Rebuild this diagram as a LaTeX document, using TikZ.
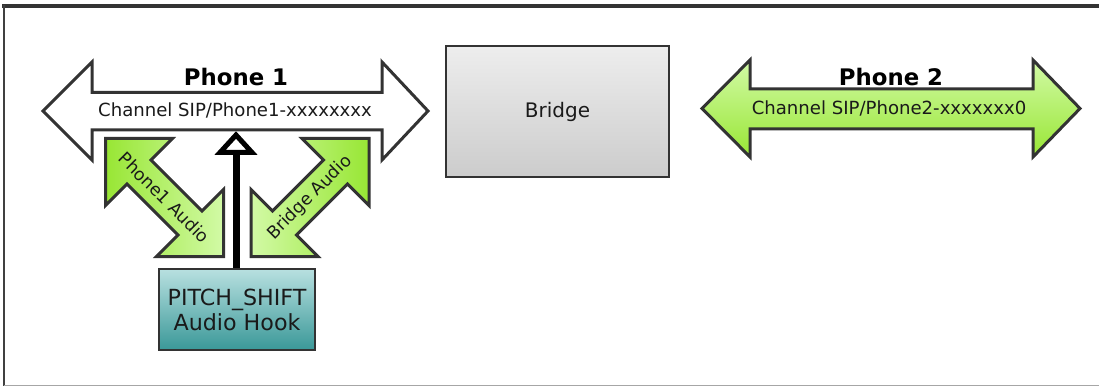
\documentclass[tikz,border=0pt]{standalone}
\usepackage{fontspec}
\setmainfont{DejaVu Sans}
\usetikzlibrary{arrows.meta,calc}
\definecolor{edge}{HTML}{333333}
\definecolor{gpale}{HTML}{D2FAA6}
\definecolor{gstrong}{HTML}{98E634}
\definecolor{tealtop}{HTML}{B8E0E0}
\definecolor{tealbot}{HTML}{3A9898}
\definecolor{txt}{HTML}{1A1A1A}
\tikzset{
  outline/.style={draw=edge, line width=3pt, line join=miter},
  phonelabel/.style={anchor=base, font=\bfseries\fontsize{22.8}{26}\selectfont, text=black, inner sep=0pt},
  chanlabel/.style={anchor=base, font=\fontsize{18.1}{21}\selectfont, text=txt, inner sep=0pt},
  difflabel/.style={font=\fontsize{17.3}{20}\selectfont, text=txt, inner sep=0pt},
  bridgebox/.style={draw=edge, line width=2pt, top color=black!7, bottom color=black!20,
    minimum width=223pt, minimum height=131pt, inner sep=0pt, font=\fontsize{20}{24}\selectfont, text=txt},
  hookbox/.style={draw=edge, line width=2.5pt, top color=tealtop, bottom color=tealbot,
    minimum width=156pt, minimum height=81pt, inner sep=0pt, align=center,
    font=\fontsize{22.2}{25}\selectfont, text=txt},
  hookline/.style={line width=7pt, draw=black},
  hooktip/.style={line width=5pt, draw=black, fill=white, line join=miter},
}
\begin{document}
\begin{tikzpicture}[x=1pt,y=-1pt]
\useasboundingbox (0,0) rectangle (1099,387);
% frame
\draw[line width=4pt, draw=black!80] (2,6) -- (1099,6);
\draw[line width=2.5pt, draw=black!75] (4,5) -- (4,386);
\draw[line width=1.5pt, draw=black!35] (4,385.5) -- (1099,385.5);

% Phone 1 channel arrow
\draw[outline, fill=white] (43,111) -- (92,62) -- (92,92.5) -- (382,92.5) -- (382,62)
  -- (428,111) -- (382,160) -- (382,130) -- (92,130) -- (92,160) -- cycle;
\node[phonelabel] (p1title) at (236,86) {Phone 1};
\node[chanlabel] (p1chan) at (235,117) {Channel SIP/Phone1-xxxxxxxx};

% Bridge
\node[bridgebox] (bridge) at (557.5,111.5) {Bridge};

% Phone 2 channel arrow
\draw[outline, top color=gpale, bottom color=gstrong] (702,108.5) -- (750,60) -- (750,89)
  -- (1033,89) -- (1033,60) -- (1080,108.5) -- (1033,157) -- (1033,129) -- (750,129)
  -- (750,157) -- cycle;
\node[phonelabel] (p2title) at (891,86) {Phone 2};
\node[chanlabel] (p2chan) at (889,115) {Channel SIP/Phone2-xxxxxxx0};

% Phone1 Audio diagonal arrow
\begin{scope}[shift={(164.5,197.5)}]
\draw[outline, left color=gstrong, right color=gpale]
  (-59,-59) -- (8,-59) -- (-13.5,-37.5) -- (37.5,13.5) -- (59,-8) -- (59,59)
  -- (-8,59) -- (13.5,37.5) -- (-37.5,-13.5) -- (-59,8) -- cycle;
\node[difflabel, rotate=-45] (a1) at (0,0) {Phone1 Audio};
\end{scope}

% Bridge Audio diagonal arrow
\begin{scope}[shift={(310,197.5)}]
\draw[outline, left color=gpale, right color=gstrong]
  (59,-59) -- (-8,-59) -- (13.5,-37.5) -- (-37.5,13.5) -- (-59,-8) -- (-59,59)
  -- (8,59) -- (-13.5,37.5) -- (37.5,-13.5) -- (59,8) -- cycle;
\node[difflabel, rotate=45] (a2) at (0,0) {Bridge Audio};
\end{scope}

% PITCH_SHIFT hook and its connector to the Phone 1 channel
\node[hookbox] (hook) at (237,309.5) {PITCH\_SHIFT\\Audio Hook};
\coordinate (p1shaft) at (236,135);
\coordinate (tipbase) at (236,152.5);
\draw[hookline] (hook.north -| tipbase) -- (tipbase);
\draw[hooktip] (p1shaft) -- ($(tipbase)+(-16,0)$) -- ($(tipbase)+(16,0)$) -- cycle;
\end{tikzpicture}
\end{document}
